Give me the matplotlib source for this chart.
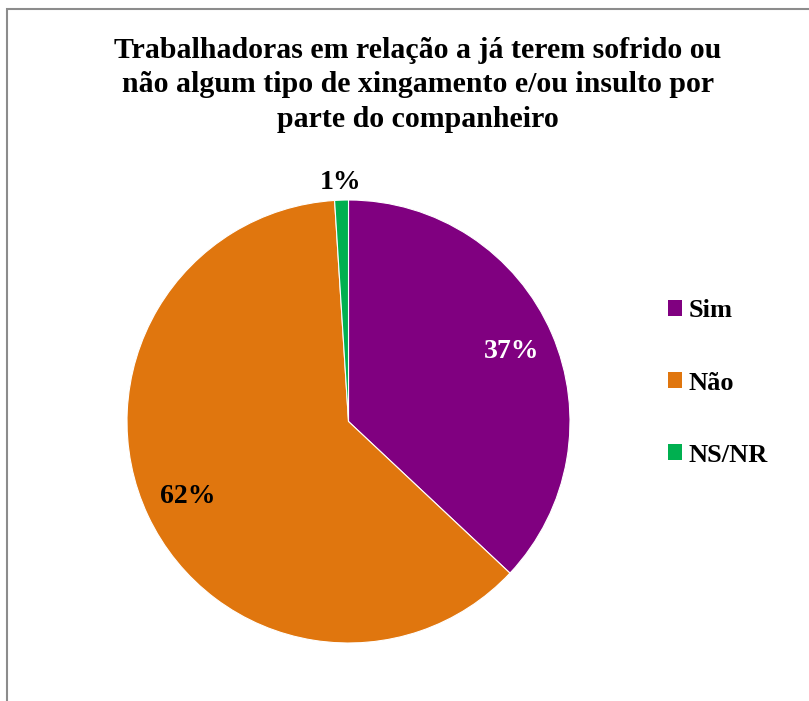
import matplotlib
matplotlib.use('Agg')
import matplotlib.pyplot as plt
from matplotlib.patches import Rectangle

plt.rcParams['font.family'] = ['Liberation Serif', 'DejaVu Serif']
plt.rcParams['font.weight'] = 'bold'

labels = ['Sim', 'Não', 'NS/NR']
valores = [37, 62, 1]
cores = ['#800080', '#E0760E', '#00B050']
titulo = 'Trabalhadoras em relação a já terem sofrido ou\nnão algum tipo de xingamento e/ou insulto por\nparte do companheiro'

W, H = 809, 701
fig = plt.figure(figsize=(W / 100, H / 100), dpi=100)

# moldura cinza (cortada à direita e embaixo)
fig.patches.append(Rectangle((7 / W, -0.1), 1.2, (H - 9) / H + 0.1, transform=fig.transFigure,
                             fill=False, edgecolor='#8c8c8c', linewidth=1.5))

cx, cy, r = 348.5, 421.5, 221.5
ax = fig.add_axes([(cx - r) / W, (H - cy - r) / H, 2 * r / W, 2 * r / H])
wedges, textos, autotextos = ax.pie(valores, colors=cores, startangle=90, counterclock=False,
                                    autopct='%1.0f%%', pctdistance=0.8, radius=1,
                                    wedgeprops={'linewidth': 0.8, 'edgecolor': 'white'},
                                    textprops={'fontsize': 20, 'fontweight': 'bold'})
ax.set_xlim(-1, 1)
ax.set_ylim(-1, 1)
ax.set_aspect('equal')

autotextos[0].set_color('white')
autotextos[1].set_color('black')
# 1% fica fora da fatia
x, y = autotextos[2].get_position()
autotextos[2].set_position((x * 1.08 / 0.8, y * 1.08 / 0.8))
autotextos[2].set_color('black')

fig.text(418 / W, 1 - 85 / H, titulo, ha='center', va='center', fontsize=21.5,
         fontweight='bold', linespacing=1.34)

leg = fig.legend(wedges, labels, loc='center left', bbox_to_anchor=(644 / W, 1 - 383 / H),
                 frameon=False, handlelength=0.53, handleheight=0.53, handletextpad=0.25,
                 labelspacing=1.86, prop={'size': 19, 'weight': 'bold'})
for h in leg.legend_handles:
    h.set_linewidth(0)

fig.savefig('out.png', dpi=100, facecolor='white')
